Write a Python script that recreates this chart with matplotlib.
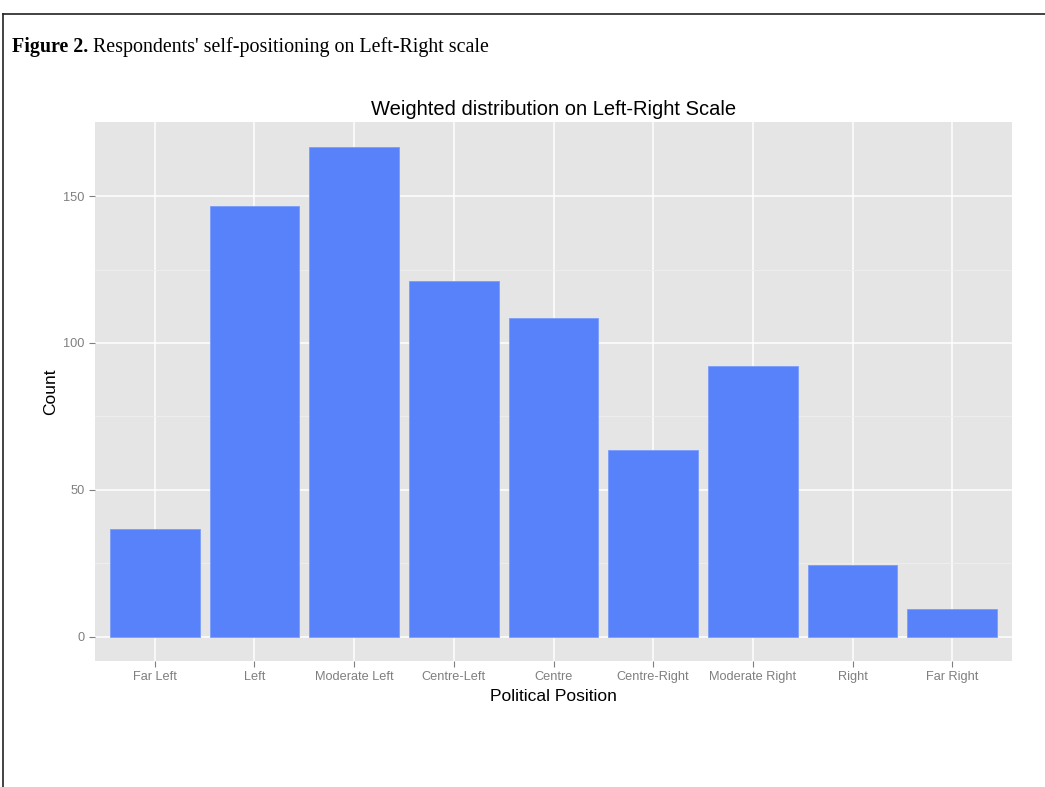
import matplotlib
matplotlib.use("Agg")
import matplotlib.pyplot as plt
from matplotlib.lines import Line2D

# values
positions = ["Far Left", "Left", "Moderate Left", "Centre-Left", "Centre",
             "Centre-Right", "Moderate Right", "Right", "Far Right"]
counts = [36.6, 146.5, 166.9, 121.0, 108.4, 63.5, 92.1, 24.4, 9.5]
yticks = [0, 50, 100, 150]
minor_yticks = [25, 75, 125]

fig = plt.figure(figsize=(10.45, 7.87), dpi=100)
ax = fig.add_axes([95/1045, 1 - 661/787, 917/1045, 539/787])

# frame around the figure (left and top visible)
fig.add_artist(Line2D([3/1045, 3/1045], [0, 1 - 14/787], color="#222222", lw=1.2))
fig.add_artist(Line2D([3/1045, 1], [1 - 14/787, 1 - 14/787], color="#222222", lw=1.2))

# caption
t1 = fig.text(12/1045, 1 - 52/787, "Figure 2.", family="Liberation Serif",
              weight="bold", fontsize=14.4, color="black")
fig.canvas.draw()
bb = t1.get_window_extent()
fig.text((bb.x1 + 5)/1045, 1 - 52/787, "Respondents' self-positioning on Left-Right scale",
         family="Liberation Serif", fontsize=14.4, color="black")

x = list(range(1, len(positions) + 1))
ax.set_facecolor("#E5E5E5")
ax.bar(x, counts, width=0.9, color="#5882FA", edgecolor="#7B9CFA", linewidth=0.6, zorder=3)

ax.set_xlim(0.4, 9.6)
ax.set_ylim(-0.05 * max(counts), 1.05 * max(counts))
ax.set_xticks(x)
ax.set_xticklabels(positions)
ax.set_yticks(yticks)
ax.set_yticks(minor_yticks, minor=True)

ax.grid(which="major", color="white", lw=1.1, zorder=1)
ax.grid(which="minor", axis="y", color="#EFEFEF", lw=0.6, zorder=1)
for s in ax.spines.values():
    s.set_visible(False)

ax.tick_params(axis="both", which="major", length=4, width=0.8, color="#7F7F7F",
               labelcolor="#7F7F7F", labelsize=9.2, pad=3.5)
ax.tick_params(axis="y", which="minor", length=0)
for lab in ax.get_xticklabels() + ax.get_yticklabels():
    lab.set_family("Liberation Sans")

ax.set_title("Weighted distribution on Left-Right Scale", family="Liberation Sans",
             fontsize=14.5, pad=5)
ax.set_xlabel("Political Position", family="Liberation Sans", fontsize=12.5, labelpad=4)
ax.set_ylabel("Count", family="Liberation Sans", fontsize=12.5, labelpad=4)

fig.savefig("out.png", dpi=100)
